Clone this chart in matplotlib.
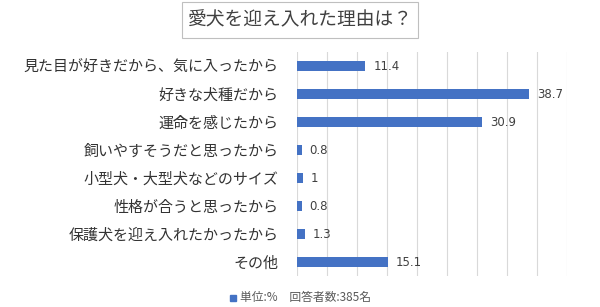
import matplotlib
matplotlib.use("Agg")
import matplotlib.pyplot as plt
from matplotlib.patches import Rectangle

plt.rcParams["font.family"] = ["Noto Sans CJK JP", "DejaVu Sans"]

categories = [
    "見た目が好きだから、気に入ったから",
    "好きな犬種だから",
    "運命を感じたから",
    "飼いやすそうだと思ったから",
    "小型犬・大型犬などのサイズ",
    "性格が合うと思ったから",
    "保護犬を迎え入れたかったから",
    "その他",
]
values = [11.4, 38.7, 30.9, 0.8, 1, 0.8, 1.3, 15.1]
value_labels = ["11.4", "38.7", "30.9", "0.8", "1", "0.8", "1.3", "15.1"]
title = "愛犬を迎え入れた理由は？"
note = "単位:%　回答者数:385名"

W, H = 600, 307
fig = plt.figure(figsize=(W / 100, H / 100), dpi=100)
fig.patch.set_facecolor("white")

# axes in pixel coords
left, right, top, bottom = 297, 567, 52, 276
ax = fig.add_axes([left / W, 1 - bottom / H, (right - left) / W, (bottom - top) / H])

bar_color = "#4472C4"
pos = list(range(len(categories)))
ax.barh(pos, values, height=0.33, color=bar_color, zorder=3)
ax.set_ylim(len(categories) - 0.5, -0.5)
ax.set_xlim(0, 45)
ax.set_xticks(range(0, 46, 5))
ax.grid(axis="x", color="#d9d9d9", linewidth=0.8, zorder=0)
ax.tick_params(axis="x", bottom=False, labelbottom=False)
ax.tick_params(axis="y", left=False, pad=10)
ax.set_yticks(pos, categories, fontsize=10.8, color="#333333")
for s in ax.spines.values():
    s.set_visible(False)

for p, v, lab in zip(pos, values, value_labels):
    ax.text(v + 1.3, p, lab, va="center", ha="left", fontsize=8.5,
            color="#404040", family=["DejaVu Sans"])

# title with box
fig.text(300 / W, 1 - 20 / H, title, ha="center", va="center", fontsize=13.5,
         color="#404040")
fig.patches.append(Rectangle((182 / W, 1 - 38 / H), 236 / W, 36 / H,
                             transform=fig.transFigure, fill=False,
                             edgecolor="#bfbfbf", linewidth=0.8))

# legend note
fig.patches.append(Rectangle((230 / W, 1 - 301 / H), 6 / W, 6 / H,
                             transform=fig.transFigure, color=bar_color))
fig.text(240 / W, 1 - 297 / H, note, ha="left", va="center", fontsize=8.5,
         color="#595959")

fig.savefig("out.png", dpi=100)
